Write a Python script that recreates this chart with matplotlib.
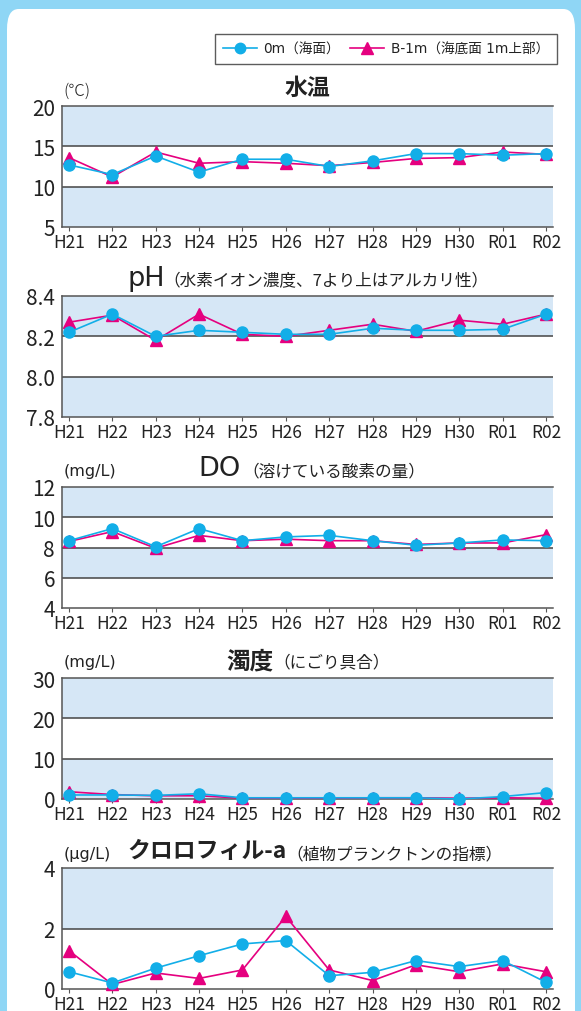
import numpy as np
import matplotlib.pyplot as plt
from matplotlib.lines import Line2D
from matplotlib.patches import FancyBboxPatch

plt.rcParams['font.family'] = ['Liberation Sans Narrow', 'Noto Sans CJK JP', 'DejaVu Sans']

years = ['H21', 'H22', 'H23', 'H24', 'H25', 'H26', 'H27', 'H28', 'H29', 'H30', 'R01', 'R02']

temp_0m = [12.7, 11.5, 13.8, 11.8, 13.4, 13.4, 12.5, 13.2, 14.1, 14.1, 13.9, 14.1]
temp_b1 = [13.6, 11.2, 14.3, 12.9, 13.1, 12.9, 12.6, 13.0, 13.5, 13.6, 14.3, 14.0]

ph_0m = [8.22, 8.31, 8.20, 8.23, 8.22, 8.21, 8.21, 8.24, 8.23, 8.23, 8.235, 8.31]
ph_b1 = [8.27, 8.305, 8.18, 8.31, 8.21, 8.20, 8.23, 8.26, 8.225, 8.28, 8.26, 8.31]

do_0m = [8.45, 9.25, 8.05, 9.25, 8.45, 8.7, 8.8, 8.45, 8.15, 8.3, 8.5, 8.45]
do_b1 = [8.4, 9.05, 7.95, 8.8, 8.45, 8.55, 8.45, 8.45, 8.2, 8.3, 8.3, 8.85]

turb_0m = [1.0, 1.0, 0.9, 1.3, 0.3, 0.3, 0.3, 0.3, 0.3, 0.0, 0.6, 1.6]
turb_b1 = [1.8, 1.1, 0.8, 0.8, 0.2, 0.2, 0.2, 0.3, 0.3, 0.2, 0.3, 0.2]

chl_0m = [0.57, 0.2, 0.69, 1.1, 1.49, 1.6, 0.44, 0.55, 0.94, 0.74, 0.94, 0.22]
chl_b1 = [1.27, 0.15, 0.53, 0.35, 0.63, 2.4, 0.63, 0.28, 0.8, 0.57, 0.83, 0.57]

label_0m = '0m（海面）'
label_b1 = 'B-1m（海底面 1m上部）'

BLUE = '#12aee8'
PINK = '#e5007f'
BAND = '#d6e7f6'
FRAME = '#8fd6f5'
TXT = '#222222'

W, H = 581, 1012
fig = plt.figure(figsize=(W / 100, H / 100), dpi=100)
fig.patch.set_facecolor(FRAME)
# white rounded card inside the blue frame
card = FancyBboxPatch((7 / W, -0.1), 568 / W, 1.1 - 10 / H, boxstyle='round,pad=0,rounding_size=0.02',
                      transform=fig.transFigure, facecolor='white', edgecolor='none', zorder=-10)
fig.patches.append(card)


def panel(top, ylim, ticks, bands, d0, d1):
    ax = fig.add_axes([62 / W, 1 - (top + 121) / H, 491 / W, 121 / H])
    ax.set_facecolor('none')
    for lo, hi in bands:
        ax.axhspan(lo, hi, color=BAND, lw=0, zorder=0)
    for t in ticks[1:-1]:
        ax.axhline(t, color='#444444', lw=1.1, zorder=1)
    x = np.arange(len(years))
    ax.plot(x, d1, color=PINK, lw=1.2, marker='^', ms=8.5, zorder=3, clip_on=False)
    ax.plot(x, d0, color=BLUE, lw=1.2, marker='o', ms=8, zorder=4, clip_on=False)
    ax.set_xlim(-0.16, 11.16)
    ax.set_ylim(*ylim)
    ax.set_xticks(x)
    ax.set_xticklabels(years, fontsize=12.5, color=TXT)
    ax.set_yticks(ticks)
    ax.tick_params(axis='y', length=0, labelsize=15, pad=5, labelcolor=TXT)
    ax.tick_params(axis='x', length=3, color='#555555', pad=1)
    ax.spines['right'].set_visible(False)
    for s in ('left', 'bottom', 'top'):
        ax.spines[s].set_color('#555555')
        ax.spines[s].set_linewidth(1.1)
    return ax


ax1 = panel(107, (5, 20), [5, 10, 15, 20], [(5, 10), (15, 20)], temp_0m, temp_b1)
ax2 = panel(297, (7.8, 8.4), [7.8, 8.0, 8.2, 8.4], [(7.8, 8.0), (8.2, 8.4)], ph_0m, ph_b1)
ax2.set_yticklabels(['7.8', '8.0', '8.2', '8.4'])
ax3 = panel(488, (4, 12), [4, 6, 8, 10, 12], [(6, 8), (10, 12)], do_0m, do_b1)
ax4 = panel(679, (0, 30), [0, 10, 20, 30], [(0, 10), (20, 30)], turb_0m, turb_b1)
ax5 = panel(869, (0, 4), [0, 2, 4], [(2, 4)], chl_0m, chl_b1)


def ftext(px, py, s, **kw):
    fig.text(px / W, 1 - py / H, s, va='center', color=TXT, **kw)


cjk = ['Noto Sans CJK JP']
sans = ['DejaVu Sans']

# titles
ftext(307, 88, '水温', fontsize=16.5, fontweight='bold', ha='center', family=cjk)
ftext(63, 91, '(℃)', fontsize=12, family=cjk, fontweight='light')

ftext(127, 279, 'pH', fontsize=19.5, ha='left', family=sans)
ftext(163, 282, '（水素イオン濃度、7より上はアルカリ性）', fontsize=12, ha='left', family=cjk)

ftext(64, 472, '(mg/L)', fontsize=11.5, ha='left', family=sans)
ftext(198, 469, 'DO', fontsize=19.5, ha='left', family=sans)
ftext(242, 472, '（溶けている酸素の量）', fontsize=12, ha='left', family=cjk)

ftext(64, 663, '(mg/L)', fontsize=11.5, ha='left', family=sans)
ftext(226, 661, '濁度', fontsize=17, fontweight='bold', ha='left', family=cjk)
ftext(273, 663, '（にごり具合）', fontsize=12, ha='left', family=cjk)

ftext(64, 855, '(μg/L)', fontsize=11.5, ha='left', family=sans)
ftext(127, 852, 'クロロフィル-a', fontsize=16.5, fontweight='bold', ha='left', family=cjk)
ftext(286, 855, '（植物プランクトンの指標）', fontsize=12, ha='left', family=cjk)

handles = [Line2D([], [], color=BLUE, lw=1.2, marker='o', ms=7.5),
           Line2D([], [], color=PINK, lw=1.2, marker='^', ms=8)]
leg = fig.legend(handles, [label_0m, label_b1], loc='upper right', bbox_to_anchor=(557 / W, 1 - 35 / H),
                 ncol=2, frameon=True, fancybox=False, edgecolor='#333333', borderaxespad=0,
                 prop={'family': ['DejaVu Sans', 'Noto Sans CJK JP'], 'size': 9.8},
                 handlelength=2.5, columnspacing=0.7, handletextpad=0.5, borderpad=0.6)
leg.get_frame().set_linewidth(1.0)
for t in leg.get_texts():
    t.set_color(TXT)

fig.savefig('out.png', dpi=100, facecolor=fig.get_facecolor())
